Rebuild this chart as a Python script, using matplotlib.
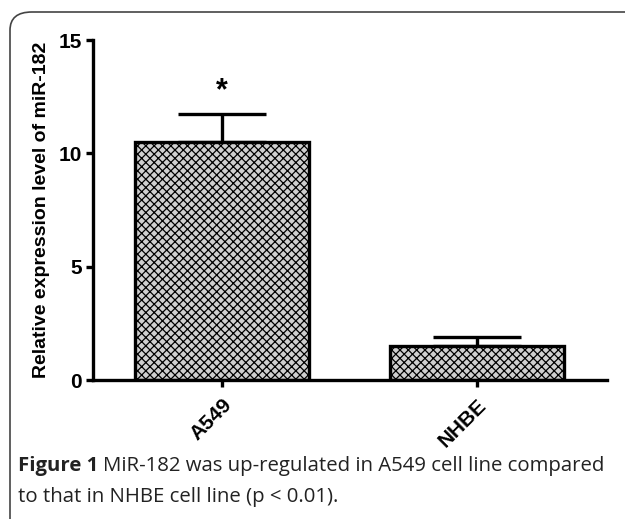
"""Bar chart: relative miR-182 expression, A549 vs NHBE."""

import matplotlib

matplotlib.use("Agg")
import matplotlib.pyplot as plt
from matplotlib.patches import FancyBboxPatch

CELL_LINES = ["A549", "NHBE"]
EXPRESSION = [10.5, 1.5]
ERRORS = [1.22, 0.38]
Y_TICKS = [0, 5, 10, 15]
Y_LABEL = "Relative expression level of miR-182"
SIGNIF = ["*", ""]

plt.rcParams["hatch.linewidth"] = 0.9

fig = plt.figure(figsize=(6.25, 5.19), dpi=100)

# rounded frame around figure + caption
frame = FancyBboxPatch(
    (10 / 625, -0.05), 1.2, 1 - 12 / 519 + 0.05,
    boxstyle="round,pad=0,rounding_size=0.035",
    transform=fig.transFigure, facecolor="none", edgecolor="#444444",
    linewidth=1.2, zorder=0,
)
fig.patches.append(frame)

ax = fig.add_axes([93 / 625, 1 - 380 / 519, (607 - 93) / 625, (380 - 40) / 519])
ax.set_facecolor("none")

positions = range(len(CELL_LINES))
ax.bar(
    positions, EXPRESSION, width=0.68, color="#cfcfcf", edgecolor="black",
    linewidth=2.4, hatch="xxxx", zorder=2,
)
ax.errorbar(
    positions, EXPRESSION, yerr=[[0] * len(ERRORS), ERRORS], fmt="none",
    ecolor="black", elinewidth=2.4, capsize=31.5, capthick=2.4, zorder=1,
)
for x, (val, err, mark) in enumerate(zip(EXPRESSION, ERRORS, SIGNIF)):
    if mark:
        ax.text(x, val + err + 1.0, mark, ha="center", va="center",
                fontsize=22, fontweight="bold", family="Liberation Sans")

ax.set_xlim(-0.505, 1.51)
ax.set_ylim(0, 15)
ax.set_yticks(Y_TICKS)
ax.set_xticks(list(positions))
ax.set_xticklabels(CELL_LINES, rotation=45, ha="right", rotation_mode="anchor",
                   fontsize=15, fontweight="bold", family="Liberation Sans")
for label in ax.get_yticklabels():
    label.set_fontsize(15)
    label.set_fontweight("bold")
    label.set_family("Liberation Sans")
ax.tick_params(axis="both", direction="out", length=5, width=2.4, pad=3)
ax.tick_params(axis="x", pad=6)
for side in ("top", "right"):
    ax.spines[side].set_visible(False)
for side in ("left", "bottom"):
    ax.spines[side].set_linewidth(2.4)
ax.set_ylabel(Y_LABEL, fontsize=14, fontweight="bold", family="Liberation Sans",
              labelpad=6)

# caption
cap_size = 14.7
head = fig.text(18 / 625, 1 - 466 / 519, "Figure 1", fontsize=cap_size, fontweight="bold",
                family="Open Sans", color="#222222", va="center")
renderer = fig.canvas.get_renderer()
head_box = head.get_window_extent(renderer)
fig.text((head_box.x1 + 5) / 625, 1 - 466 / 519,
         "MiR-182 was up-regulated in A549 cell line compared",
         fontsize=cap_size, family="Open Sans", color="#222222", va="center")
fig.text(18 / 625, 1 - 497 / 519, "to that in NHBE cell line (p < 0.01).",
         fontsize=cap_size, family="Open Sans", color="#222222", va="center")

fig.savefig("out.png", dpi=100)
